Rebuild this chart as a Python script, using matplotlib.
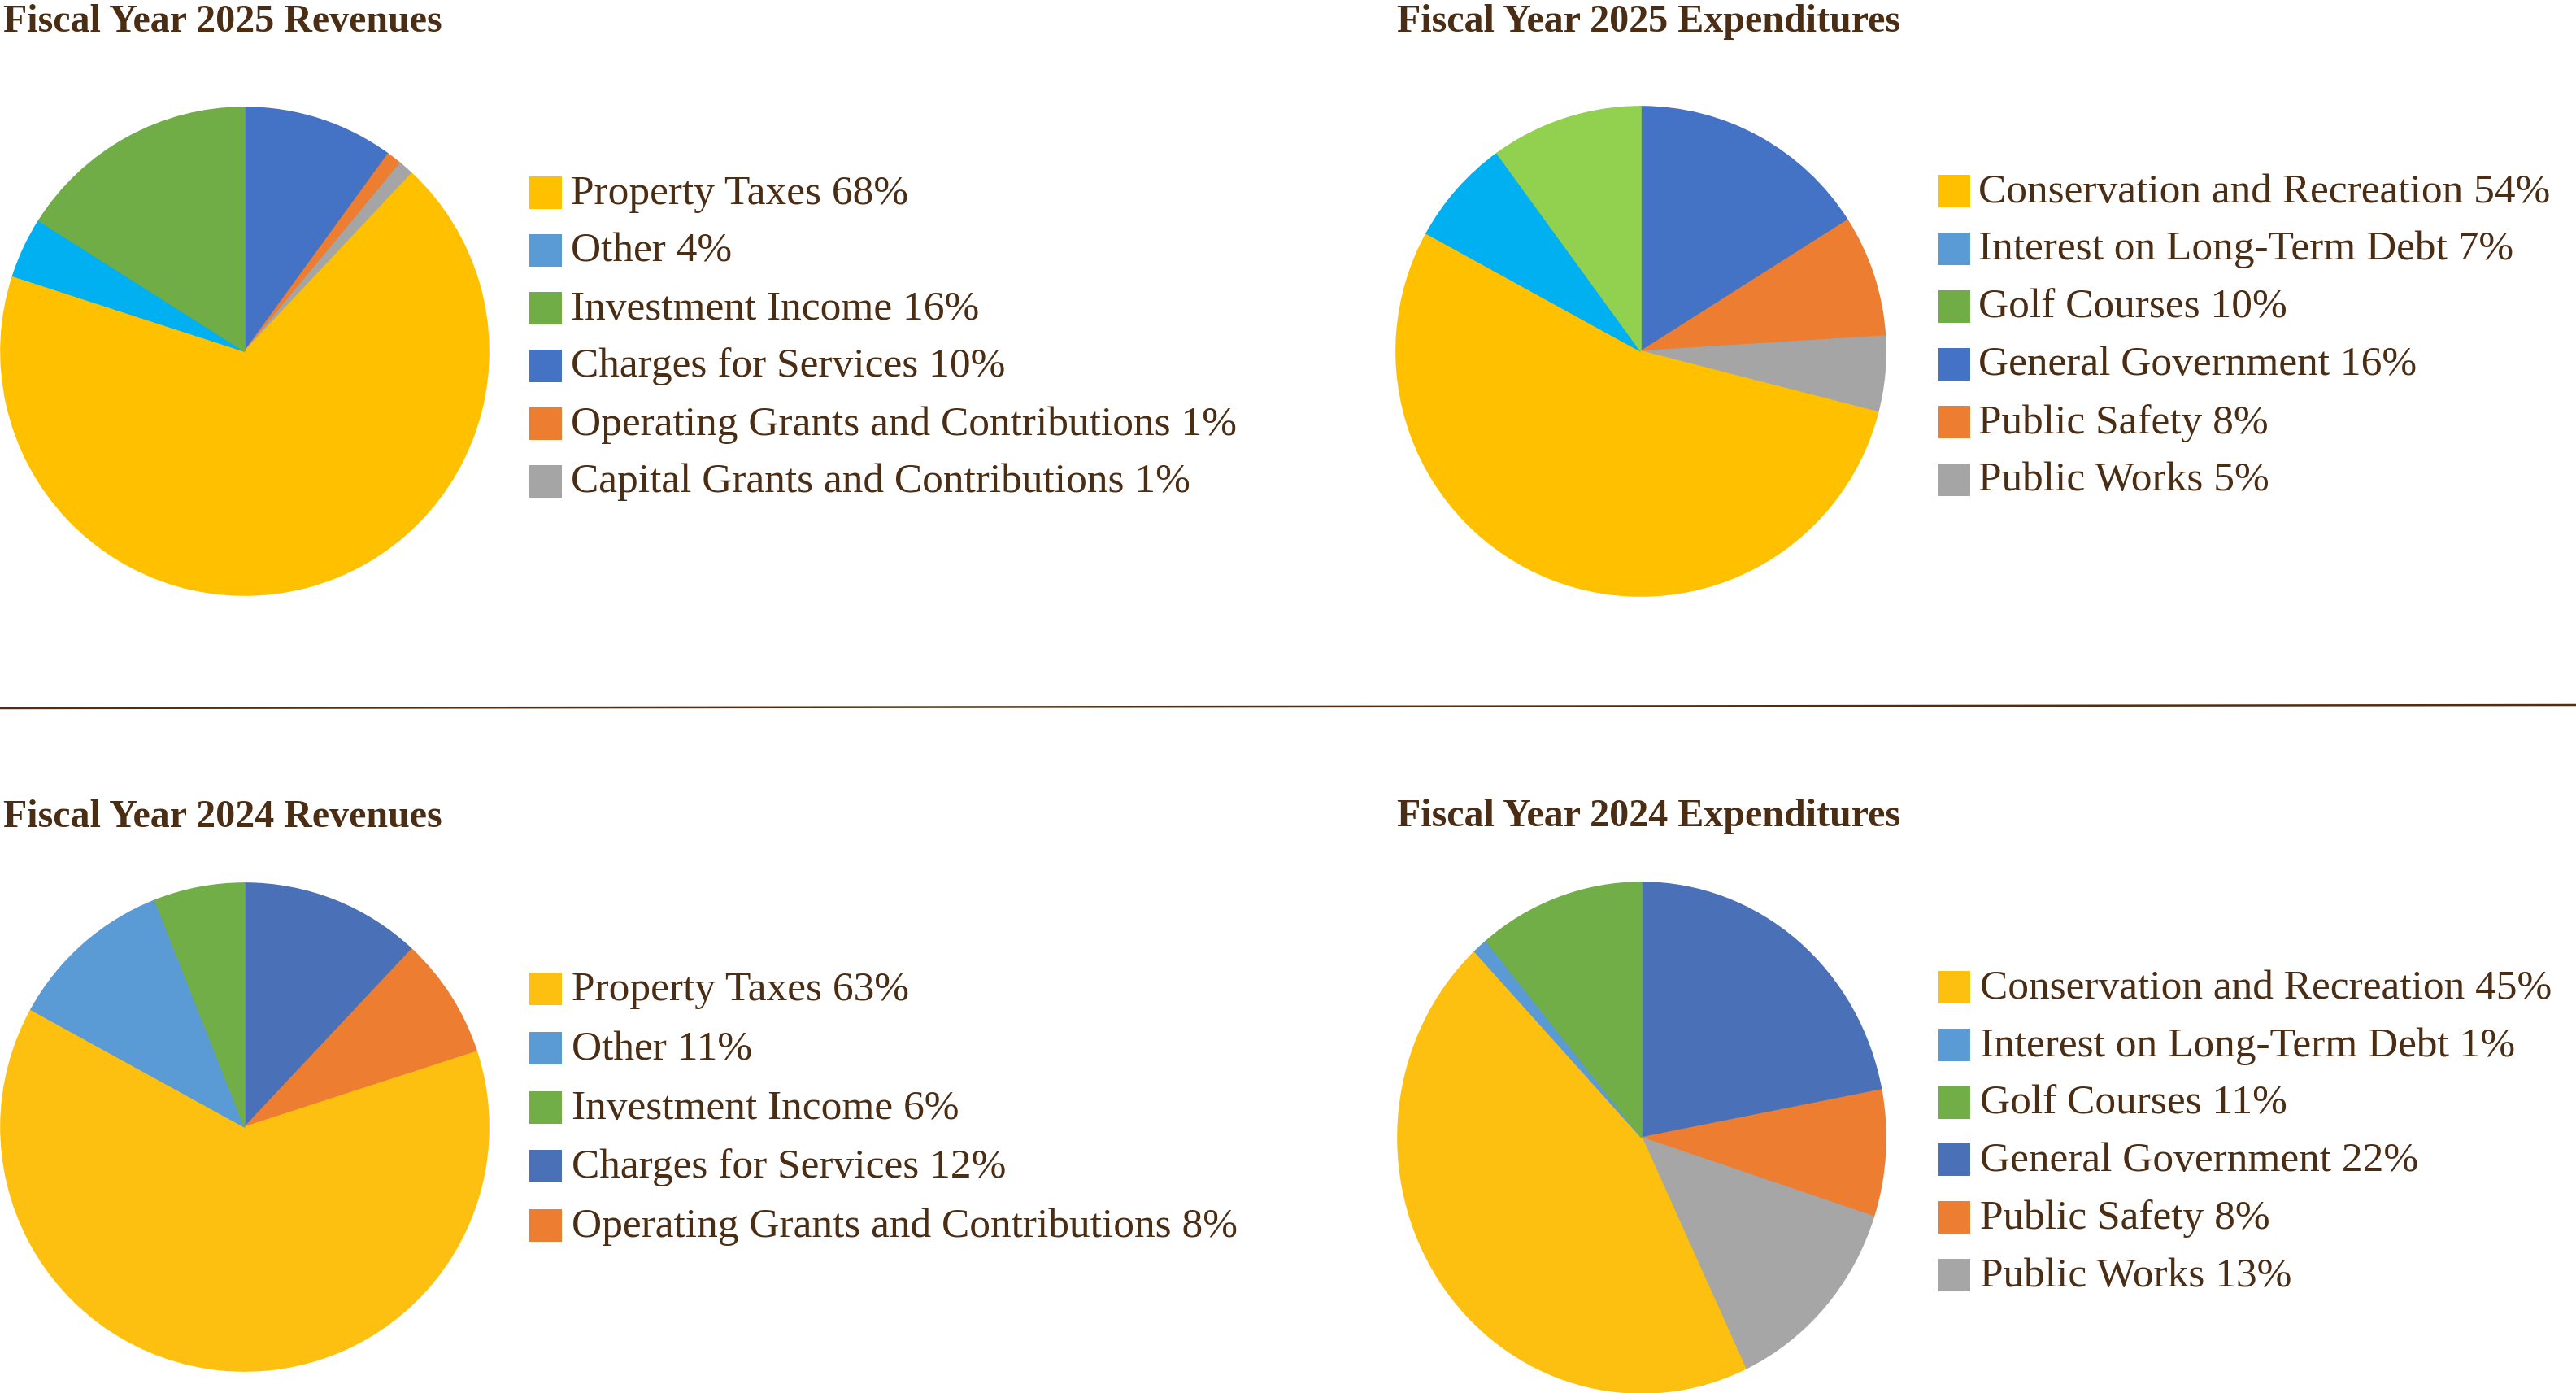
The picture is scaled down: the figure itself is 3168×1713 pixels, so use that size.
import matplotlib
matplotlib.use("Agg")
import matplotlib.pyplot as plt
from matplotlib.patches import Rectangle

# canvas in pixels
W, H = 3168, 1713
DPI = 200

TEXT_COL = "#4B2D14"
plt.rcParams["font.family"] = ["Liberation Serif", "DejaVu Serif"]

# ---- data (legend order) ----
rev25_labels = ["Property Taxes", "Other", "Investment Income", "Charges for Services",
                "Operating Grants and Contributions", "Capital Grants and Contributions"]
rev25_pct = [68, 4, 16, 10, 1, 1]
rev25_legend_cols = ["#FFC000", "#5B9BD5", "#70AD47", "#4472C4", "#ED7D31", "#A5A5A5"]
rev25_pie_cols = ["#FFC000", "#00B0F0", "#70AD47", "#4472C4", "#ED7D31", "#A5A5A5"]

exp25_labels = ["Conservation and Recreation", "Interest on Long-Term Debt", "Golf Courses",
                "General Government", "Public Safety", "Public Works"]
exp25_pct = [54, 7, 10, 16, 8, 5]
exp25_legend_cols = ["#FFC000", "#5B9BD5", "#70AD47", "#4472C4", "#ED7D31", "#A5A5A5"]
exp25_pie_cols = ["#FFC000", "#00B0F0", "#92D050", "#4472C4", "#ED7D31", "#A5A5A5"]

rev24_labels = ["Property Taxes", "Other", "Investment Income", "Charges for Services",
                "Operating Grants and Contributions"]
rev24_pct = [63, 11, 6, 12, 8]
rev24_legend_cols = ["#FDC010", "#5B9BD5", "#72AE48", "#4A71B8", "#ED7D31"]
rev24_pie_cols = ["#FDC010", "#5B9BD5", "#72AE48", "#4A71B8", "#ED7D31"]

exp24_labels = ["Conservation and Recreation", "Interest on Long-Term Debt", "Golf Courses",
                "General Government", "Public Safety", "Public Works"]
exp24_pct = [45, 1, 11, 22, 8, 13]
exp24_legend_cols = ["#FDC010", "#5B9BD5", "#72AE48", "#4A71B8", "#ED7D31", "#A5A6A5"]
exp24_pie_cols = ["#FDC010", "#5B9BD5", "#72AE48", "#4A71B8", "#ED7D31", "#A5A6A5"]

titles = ["Fiscal Year 2025 Revenues", "Fiscal Year 2025 Expenditures",
          "Fiscal Year 2024 Revenues", "Fiscal Year 2024 Expenditures"]

fig = plt.figure(figsize=(W / DPI, H / DPI), dpi=DPI)
fig.patch.set_facecolor("white")


def add_pie(vals, cols, cx, cy, rx, ry):
    ax = fig.add_axes([(cx - rx) / W, (H - cy - ry) / H, 2 * rx / W, 2 * ry / H])
    # pie starts at 12 o'clock with the 4th legend entry, clockwise
    v = vals[3:] + vals[:3]
    c = cols[3:] + cols[:3]
    wedges, _ = ax.pie(v, colors=c, startangle=90, counterclock=False, radius=1)
    for w in wedges:
        w.set_edgecolor(w.get_facecolor())
        w.set_linewidth(0.6)
    ax.set_xlim(-1, 1)
    ax.set_ylim(-1, 1)
    ax.set_aspect("auto")
    ax.axis("off")
    return ax


add_pie(rev25_pct, rev25_pie_cols, 301, 432, 300, 300)
add_pie(exp25_pct, exp25_pie_cols, 2018, 432, 301, 301)
add_pie(rev24_pct, rev24_pie_cols, 301, 1386, 300, 300)
add_pie(exp24_pct, exp24_pie_cols, 2019, 1399, 300, 314)

# overlay in pixel coords for titles, legends and divider
ov = fig.add_axes([0, 0, 1, 1])
ov.set_xlim(0, W)
ov.set_ylim(H, 0)
ov.axis("off")

title_pos = [(4, 39), (1718, 39), (4, 1017), (1718, 1016)]
for t, (x, y) in zip(titles, title_pos):
    ov.text(x, y, t, fontsize=17.3, fontweight="bold", color=TEXT_COL, va="baseline", ha="left")


def legend(labels, pct, cols, sq_x, txt_x, rows):
    for lab, p, col, yc in zip(labels, pct, cols, rows):
        ov.add_patch(Rectangle((sq_x, yc - 20), 40, 40, facecolor=col, edgecolor="none"))
        ov.text(txt_x, yc + 14, f"{lab} {p}%", fontsize=18.5, color=TEXT_COL,
                va="baseline", ha="left")


legend(rev25_labels, rev25_pct, rev25_legend_cols, 651, 702, [237, 307.5, 378.5, 449.5, 520.5, 591.5])
legend(exp25_labels, exp25_pct, exp25_legend_cols, 2383, 2433, [235, 305.5, 376.5, 447.5, 518.5, 589.5])
legend(rev24_labels, rev24_pct, rev24_legend_cols, 651, 703, [1216, 1289, 1362, 1434, 1507])
legend(exp24_labels, exp24_pct, exp24_legend_cols, 2383, 2435, [1214, 1285, 1356, 1426, 1497, 1568])

# divider between the two years
ov.plot([0, W], [871, 867], color="#4F2E13", linewidth=0.9, solid_capstyle="butt")

fig.savefig("out.png", dpi=DPI, facecolor="white")
